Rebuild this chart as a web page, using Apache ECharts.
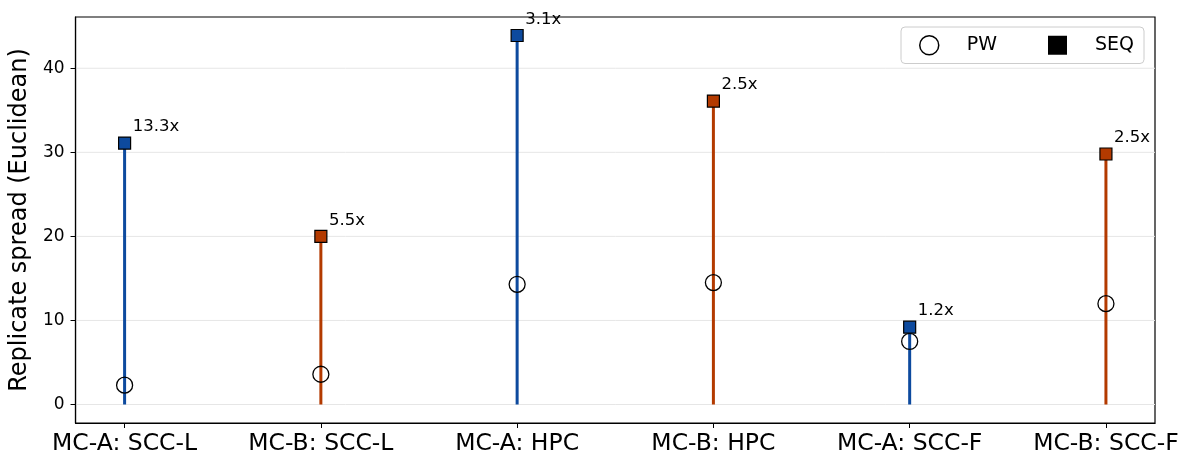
<!DOCTYPE html>
<html><head><meta charset="utf-8">
<script src="https://cdn.jsdelivr.net/npm/echarts@6/dist/echarts.min.js"></script>
<style>html,body{margin:0;padding:0;background:#fff}#c{width:1183px;height:457px}</style>
</head><body><div id="c"></div>
<script>
const categories = ["MC-A: SCC-L","MC-B: SCC-L","MC-A: HPC","MC-B: HPC","MC-A: SCC-F","MC-B: SCC-F"];
const pwValues = [2.3, 3.6, 14.3, 14.5, 7.5, 12.0];
const seqValues = [31.1, 20.0, 43.9, 36.1, 9.2, 29.8];
const ratioLabels = ["13.3x","5.5x","3.1x","2.5x","1.2x","2.5x"];
const yTicks = [0, 10, 20, 30, 40];
const colors = ["#0d4a9e","#b33a00","#0d4a9e","#b33a00","#0d4a9e","#b33a00"];

const font = "DejaVu Sans";
const chart = echarts.init(document.getElementById('c'), null, {renderer:'canvas'});
const xs = categories.map((c,i)=>i);
chart.setOption({
  animation:false,
  textStyle:{fontFamily:font},
  grid:{left:74,right:28,top:17,bottom:34,show:true,borderColor:'#000',borderWidth:1.2,backgroundColor:'transparent'},
  xAxis:{type:'value',min:-0.25,max:5.25,
    axisLine:{show:true,onZero:false,lineStyle:{color:'#000',width:1.2}},splitLine:{show:false},
    axisTick:{show:true,inside:false,length:5,lineStyle:{color:'#000',width:1},customValues:xs},
    axisLabel:{customValues:xs,formatter:v=>categories[Math.round(v)]||'',fontSize:23.5,color:'#000',margin:9,fontFamily:font}
  },
  yAxis:{type:'value',min:-2.2,max:46.1,
    name:'Replicate spread (Euclidean)',nameLocation:'middle',nameGap:40,
    nameTextStyle:{fontSize:24,color:'#000',fontFamily:font},
    axisLine:{show:true,onZero:false,lineStyle:{color:'#000',width:1.2}},
    axisTick:{show:true,inside:false,length:5,lineStyle:{color:'#000',width:1},customValues:yTicks},
    axisLabel:{customValues:yTicks,fontSize:17,color:'#000',margin:11,fontFamily:font},
    splitLine:{show:false}
  },
  legend:{left:901,top:27,orient:'horizontal',padding:[8,10,8,18],itemGap:51,
    itemWidth:19,itemHeight:19,
    borderColor:'#cccccc',borderWidth:1,borderRadius:4,backgroundColor:'#fff',
    textStyle:{fontSize:19,color:'#000',fontFamily:font,padding:[0,0,0,23]},
    data:[
      {name:'PW',icon:'circle',itemStyle:{color:'rgba(0,0,0,0)',borderColor:'#000',borderWidth:1.5,opacity:1}},
      {name:'SEQ',icon:'rect',itemStyle:{color:'#000',borderWidth:0,opacity:1}}
    ]
  },
  series:[
    {type:'custom',name:'grid',silent:true,z:0,
      renderItem:(p,api)=>{
        if(p.dataIndex!==0) return null;
        const cs = p.coordSys;
        return {type:'group',children:yTicks.map(t=>{
          const y = api.coord([0,t])[1];
          return {type:'line',shape:{x1:cs.x,y1:y,x2:cs.x+cs.width,y2:y},style:{stroke:'#e6e6e6',lineWidth:1}};
        })};
      },
      data:[[0,0]]
    },
    {type:'custom',name:'stem',silent:true,z:1,
      renderItem:(p,api)=>{
        const i = p.dataIndex;
        const a = api.coord([api.value(0),0]);
        const b = api.coord([api.value(0),api.value(1)]);
        return {type:'line',shape:{x1:a[0],y1:a[1],x2:b[0],y2:b[1]},style:{stroke:colors[i],lineWidth:3}};
      },
      data:xs.map((x,i)=>[x,seqValues[i]])
    },
    {type:'scatter',name:'PW',z:3,symbol:'circle',symbolSize:16,
      itemStyle:{color:'rgba(255,255,255,0)',borderColor:'#000',borderWidth:1.3,opacity:1},
      data:xs.map((x,i)=>[x,pwValues[i]])
    },
    {type:'scatter',name:'SEQ',z:4,symbol:'rect',symbolSize:12,
      itemStyle:{color:'#000',borderColor:'#000',borderWidth:1.2,opacity:1},
      data:xs.map((x,i)=>({value:[x,seqValues[i]],itemStyle:{color:colors[i],opacity:1},
        label:{show:true,formatter:ratioLabels[i],position:[14.7,-9.5],align:'left',verticalAlign:'middle',fontSize:16.5,color:'#000',fontFamily:font}}))
    }
  ]
});
</script></body></html>
